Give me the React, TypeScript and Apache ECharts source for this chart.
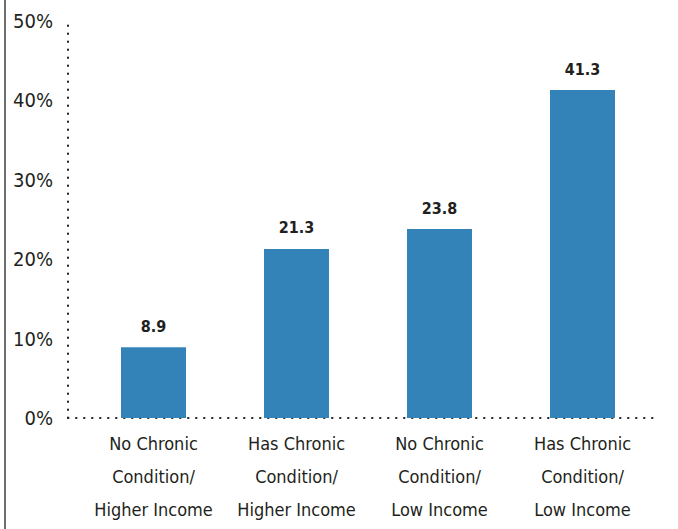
import React, { useEffect, useRef } from "react";
import * as echarts from "echarts";

const categories = [
  "No Chronic\nCondition/\nHigher Income",
  "Has Chronic\nCondition/\nHigher Income",
  "No Chronic\nCondition/\nLow Income",
  "Has Chronic\nCondition/\nLow Income",
];
const values = [8.9, 21.3, 23.8, 41.3];
const yTicks = [0, 10, 20, 30, 40, 50];

const FONT = '"DejaVu Sans Condensed", "Liberation Sans Narrow", sans-serif';
const TEXT = "#231f20";
const BAR = "#3383b9";

export default function App() {
  const ref = useRef<HTMLDivElement>(null);
  useEffect(() => {
    if (!ref.current) return;
    const chart = echarts.init(ref.current, null, { renderer: "svg" });
    const dotted = { color: "#222", width: 2, type: [0.5, 7.5] as any, cap: "round" as any };
    chart.setOption({
      animation: false,
      backgroundColor: "#fff",
      grid: [
        { left: 82, right: 24, top: 21, bottom: 111 },
        { left: 68, right: 20, top: 21, bottom: 111 },
      ],
      xAxis: [
        {
          type: "category",
          gridIndex: 0,
          data: categories,
          axisLine: { show: false },
          axisTick: { show: false },
          axisLabel: {
            fontFamily: FONT,
            fontSize: 18,
            lineHeight: 33,
            color: TEXT,
            margin: 9,
            interval: 0,
          },
        },
        {
          type: "value",
          gridIndex: 1,
          min: 0,
          max: 1,
          axisLine: { show: true, onZero: false, lineStyle: dotted },
          axisTick: { show: false },
          axisLabel: { show: false },
          splitLine: { show: false },
        },
      ],
      yAxis: [
        {
          type: "value",
          gridIndex: 0,
          min: yTicks[0],
          max: yTicks[yTicks.length - 1],
          interval: 10,
          offset: 14,
          axisLine: { show: true, lineStyle: dotted },
          axisTick: { show: false },
          splitLine: { show: false },
          axisLabel: {
            formatter: "{value}%",
            fontFamily: FONT,
            fontSize: 20,
            color: TEXT,
            margin: 15,
          },
        },
        {
          type: "value",
          gridIndex: 1,
          min: 0,
          max: 1,
          show: false,
        },
      ],
      graphic: [
        {
          type: "rect",
          left: 4,
          top: 0,
          shape: { width: 2, height: 529 },
          style: { fill: "#6f6f6f" },
        },
      ],
      series: [
        {
          type: "bar",
          xAxisIndex: 0,
          yAxisIndex: 0,
          data: values,
          barWidth: 65,
          itemStyle: { color: BAR },
          z: 1,
          label: {
            show: true,
            position: "top",
            distance: 13,
            fontFamily: FONT,
            fontWeight: "bold",
            fontSize: 16,
            color: TEXT,
            formatter: (p: any) => p.value.toFixed(1),
          },
        },
      ],
    });
    return () => chart.dispose();
  }, []);
  return (
    <div
      ref={ref}
      style={{ position: "fixed", left: 0, top: 0, width: 678, height: 529 }}
    />
  );
}
